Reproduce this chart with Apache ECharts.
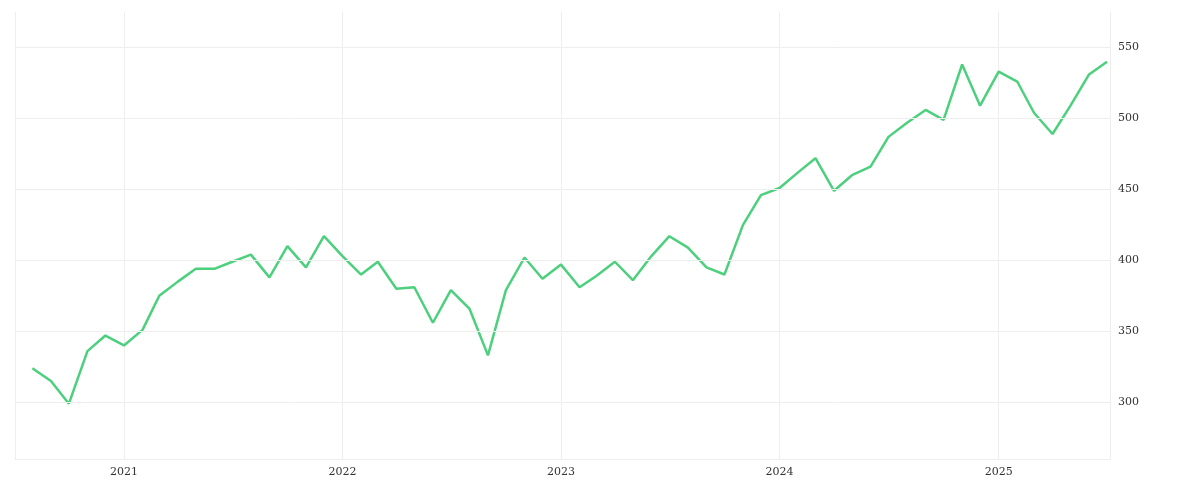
<!DOCTYPE html><html><head><meta charset="utf-8"><script src="https://cdn.jsdelivr.net/npm/echarts@6/dist/echarts.min.js"></script></head><body style="margin:0"><div id="c" style="width:1200px;height:500px"></div><script>
const startYear=2020,startMonth=8;
const values=[324,315,299,336,347,340,351,375,385,394,394,399,404,388,410,395,417,403,390,399,380,381,356,379,366,333,379,402,387,397,381,389,399,386,403,417,409,395,390,425,446,451,462,472,449,460,466,487,497,506,499,538,509,533,526,504,489,509,531,540];
const yTicks=[300,350,400,450,500,550];
const data=values.map((v,i)=>{const m=startMonth-1+i;const y=startYear+Math.floor(m/12);const mm=(m%12)+1;return [y+'-'+String(mm).padStart(2,'0')+'-01',v];});
const ch=echarts.init(document.getElementById('c'));
ch.setOption({animation:false,grid:{left:15,right:90,top:12,bottom:41},
xAxis:{type:'time',min:'2020-07-03',max:'2025-07-06',axisLine:{show:true,lineStyle:{color:'#eee'}},axisTick:{show:false},splitLine:{show:true,lineStyle:{color:'#eee'}},
axisLabel:{fontFamily:'DejaVu Serif',fontSize:11,color:'#333',formatter:v=>{const d=new Date(v);return d.getMonth()===0?String(d.getFullYear()):'';}},interval:365.25*864e5,minInterval:365*864e5},
yAxis:{type:'value',position:'right',min:260,max:575,interval:10,axisLine:{show:false},axisTick:{show:false},splitLine:{show:false},
axisLabel:{fontFamily:'DejaVu Serif',fontSize:11,color:'#333',hideOverlap:false,margin:8,formatter:v=>yTicks.includes(v)?String(v):''}},
series:[{type:'line',data:data,symbol:'none',lineStyle:{color:'#4cd07d',width:2.5},z:3,
markLine:{silent:true,symbol:'none',label:{show:false},lineStyle:{color:'#eee',type:'solid',width:1},data:yTicks.map(v=>({yAxis:v}))}}]});
</script></body></html>
